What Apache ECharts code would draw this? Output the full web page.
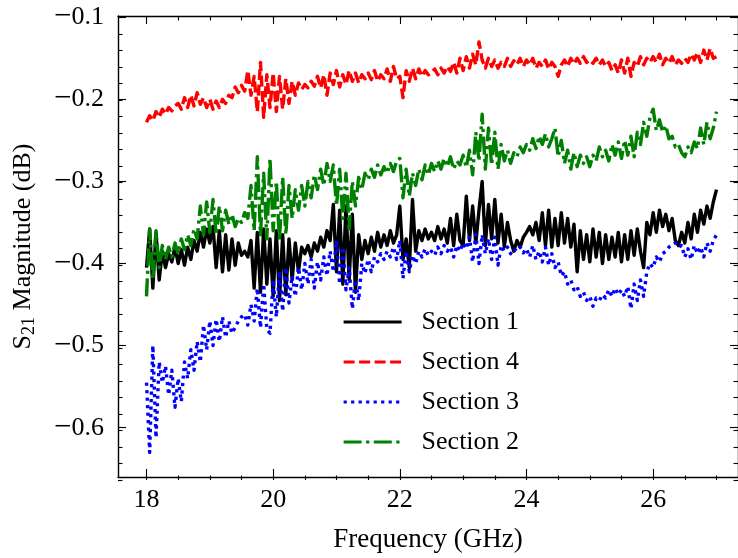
<!DOCTYPE html>
<html>
<head>
<meta charset="utf-8">
<script src="https://cdn.jsdelivr.net/npm/echarts@6/dist/echarts.min.js"></script>
<style>
html,body{margin:0;padding:0;background:#fff;}
#chart{width:738px;height:558px;}
</style>
</head>
<body>
<div id="chart"></div>
<script>
// Frequency sweep: 18.00 ... 27.00 GHz, 0.05 GHz step (181 points)
const freqStart = 18.0;
const freqStep = 0.05;
const freqCount = 181;
const freqGHz = [];
for (let i = 0; i < freqCount; i++) freqGHz.push(+(freqStart + i * freqStep).toFixed(2));

// Section 1 (black, solid)
const section1 = [
-0.405,-0.358,-0.430,-0.362,-0.420,-0.385,-0.405,-0.388,-0.398,-0.380,
-0.400,-0.383,-0.402,-0.380,-0.395,-0.372,-0.385,-0.362,-0.380,-0.358,
-0.375,-0.355,-0.405,-0.360,-0.410,-0.365,-0.408,-0.370,-0.402,-0.375,
-0.390,-0.385,-0.392,-0.372,-0.430,-0.362,-0.435,-0.358,-0.425,-0.370,
-0.440,-0.360,-0.445,-0.365,-0.438,-0.370,-0.420,-0.375,-0.410,-0.380,
-0.388,-0.378,-0.392,-0.375,-0.385,-0.368,-0.380,-0.360,-0.372,-0.328,
-0.410,-0.335,-0.425,-0.330,-0.420,-0.340,-0.435,-0.365,-0.395,-0.372,
-0.388,-0.368,-0.385,-0.362,-0.380,-0.365,-0.378,-0.360,-0.375,-0.365,
-0.330,-0.395,-0.370,-0.405,-0.322,-0.385,-0.360,-0.372,-0.358,-0.370,
-0.362,-0.372,-0.355,-0.370,-0.358,-0.375,-0.345,-0.378,-0.340,-0.372,
-0.378,-0.318,-0.372,-0.330,-0.375,-0.335,-0.300,-0.378,-0.328,-0.370,
-0.322,-0.375,-0.340,-0.380,-0.350,-0.372,-0.385,-0.372,-0.380,-0.368,
-0.362,-0.355,-0.365,-0.350,-0.372,-0.338,-0.378,-0.335,-0.380,-0.345,
-0.378,-0.338,-0.375,-0.345,-0.380,-0.352,-0.410,-0.360,-0.395,-0.365,
-0.398,-0.358,-0.392,-0.362,-0.400,-0.365,-0.395,-0.368,-0.392,-0.362,
-0.398,-0.365,-0.395,-0.360,-0.390,-0.358,-0.385,-0.405,-0.350,-0.365,
-0.338,-0.362,-0.335,-0.355,-0.340,-0.360,-0.345,-0.372,-0.378,-0.362,
-0.375,-0.350,-0.370,-0.340,-0.362,-0.335,-0.352,-0.330,-0.345,-0.325,
-0.310
];

// Section 4 (red, dashed)
const section4 = [
-0.228,-0.220,-0.226,-0.215,-0.222,-0.212,-0.218,-0.210,-0.214,-0.208,
-0.205,-0.212,-0.198,-0.210,-0.195,-0.208,-0.192,-0.206,-0.198,-0.210,
-0.200,-0.212,-0.202,-0.210,-0.200,-0.205,-0.195,-0.198,-0.185,-0.192,
-0.183,-0.190,-0.165,-0.195,-0.172,-0.215,-0.155,-0.222,-0.170,-0.210,
-0.168,-0.215,-0.172,-0.212,-0.175,-0.205,-0.178,-0.195,-0.180,-0.188,
-0.182,-0.186,-0.178,-0.184,-0.172,-0.186,-0.170,-0.195,-0.168,-0.182,
-0.165,-0.185,-0.170,-0.182,-0.165,-0.178,-0.168,-0.180,-0.170,-0.175,
-0.168,-0.176,-0.165,-0.178,-0.170,-0.175,-0.163,-0.178,-0.160,-0.175,
-0.172,-0.198,-0.165,-0.178,-0.162,-0.175,-0.163,-0.172,-0.165,-0.170,
-0.168,-0.163,-0.170,-0.162,-0.168,-0.160,-0.166,-0.155,-0.168,-0.150,
-0.165,-0.148,-0.162,-0.145,-0.158,-0.130,-0.152,-0.162,-0.150,-0.160,
-0.152,-0.162,-0.155,-0.160,-0.150,-0.160,-0.153,-0.158,-0.150,-0.160,
-0.152,-0.158,-0.150,-0.162,-0.155,-0.160,-0.152,-0.163,-0.155,-0.160,
-0.172,-0.158,-0.152,-0.160,-0.150,-0.157,-0.150,-0.156,-0.148,-0.155,
-0.152,-0.156,-0.150,-0.158,-0.152,-0.160,-0.155,-0.165,-0.158,-0.168,
-0.152,-0.168,-0.150,-0.172,-0.155,-0.160,-0.148,-0.158,-0.150,-0.155,
-0.148,-0.155,-0.145,-0.158,-0.150,-0.156,-0.148,-0.158,-0.152,-0.156,
-0.150,-0.155,-0.145,-0.152,-0.143,-0.155,-0.140,-0.152,-0.138,-0.150,
-0.148
];

// Section 3 (blue, dotted)
const section3 = [
-0.545,-0.630,-0.500,-0.612,-0.520,-0.545,-0.525,-0.560,-0.530,-0.575,
-0.540,-0.568,-0.520,-0.540,-0.505,-0.530,-0.495,-0.520,-0.475,-0.505,
-0.470,-0.500,-0.468,-0.495,-0.465,-0.490,-0.470,-0.485,-0.478,-0.470,
-0.465,-0.462,-0.475,-0.450,-0.470,-0.430,-0.478,-0.425,-0.480,-0.485,
-0.420,-0.465,-0.410,-0.458,-0.405,-0.448,-0.415,-0.440,-0.405,-0.432,
-0.400,-0.425,-0.395,-0.430,-0.398,-0.420,-0.392,-0.415,-0.385,-0.410,
-0.372,-0.425,-0.380,-0.432,-0.405,-0.455,-0.420,-0.445,-0.400,-0.412,
-0.395,-0.410,-0.392,-0.398,-0.388,-0.395,-0.385,-0.392,-0.380,-0.395,
-0.372,-0.418,-0.385,-0.410,-0.390,-0.400,-0.385,-0.392,-0.382,-0.390,
-0.385,-0.390,-0.380,-0.388,-0.378,-0.385,-0.380,-0.392,-0.378,-0.385,
-0.375,-0.382,-0.368,-0.398,-0.365,-0.400,-0.365,-0.388,-0.370,-0.395,
-0.368,-0.402,-0.378,-0.385,-0.380,-0.388,-0.382,-0.385,-0.380,-0.387,
-0.382,-0.392,-0.378,-0.395,-0.385,-0.398,-0.380,-0.402,-0.388,-0.405,
-0.398,-0.415,-0.410,-0.425,-0.420,-0.432,-0.428,-0.440,-0.435,-0.445,
-0.440,-0.452,-0.442,-0.445,-0.438,-0.442,-0.432,-0.440,-0.430,-0.438,
-0.432,-0.440,-0.428,-0.455,-0.425,-0.445,-0.420,-0.440,-0.410,-0.400,
-0.405,-0.392,-0.398,-0.388,-0.385,-0.380,-0.378,-0.375,-0.380,-0.378,
-0.392,-0.382,-0.395,-0.378,-0.388,-0.380,-0.392,-0.375,-0.385,-0.372,
-0.365
];

// Section 2 (green, dash-dot)
const section2 = [
-0.440,-0.358,-0.420,-0.360,-0.405,-0.378,-0.395,-0.380,-0.392,-0.375,
-0.388,-0.370,-0.383,-0.365,-0.378,-0.358,-0.370,-0.330,-0.365,-0.325,
-0.362,-0.322,-0.365,-0.330,-0.360,-0.335,-0.352,-0.340,-0.355,-0.345,
-0.350,-0.338,-0.345,-0.305,-0.360,-0.270,-0.365,-0.290,-0.370,-0.272,
-0.360,-0.300,-0.372,-0.295,-0.365,-0.305,-0.345,-0.310,-0.335,-0.305,
-0.330,-0.300,-0.320,-0.292,-0.310,-0.285,-0.305,-0.278,-0.300,-0.280,
-0.330,-0.285,-0.345,-0.290,-0.358,-0.300,-0.330,-0.295,-0.310,-0.290,
-0.298,-0.285,-0.295,-0.280,-0.292,-0.282,-0.290,-0.278,-0.288,-0.275,
-0.272,-0.320,-0.285,-0.318,-0.290,-0.305,-0.285,-0.298,-0.280,-0.292,
-0.278,-0.288,-0.275,-0.285,-0.272,-0.282,-0.270,-0.285,-0.275,-0.280,
-0.268,-0.283,-0.262,-0.292,-0.240,-0.275,-0.218,-0.285,-0.235,-0.280,
-0.240,-0.285,-0.255,-0.275,-0.262,-0.278,-0.265,-0.270,-0.258,-0.265,
-0.255,-0.262,-0.248,-0.260,-0.245,-0.255,-0.242,-0.258,-0.248,-0.235,
-0.270,-0.250,-0.278,-0.262,-0.285,-0.265,-0.282,-0.268,-0.278,-0.270,
-0.282,-0.268,-0.275,-0.258,-0.270,-0.262,-0.275,-0.255,-0.268,-0.252,
-0.272,-0.250,-0.268,-0.245,-0.270,-0.240,-0.255,-0.228,-0.245,-0.222,
-0.212,-0.238,-0.225,-0.240,-0.232,-0.248,-0.245,-0.258,-0.255,-0.265,
-0.270,-0.258,-0.265,-0.252,-0.260,-0.235,-0.255,-0.228,-0.248,-0.235,
-0.215
];

// Axis ticks
const xMajorTicks = [18, 20, 22, 24, 26];
const yMajorTicks = [-0.6, -0.5, -0.4, -0.3, -0.2, -0.1];
const xMin = 17.55, xMax = 27.34;
const yMin = -0.66, yMax = -0.0985;

const xMinorTicks = [];
for (let v = 18; v <= 27.01; v += 0.5) xMinorTicks.push(+v.toFixed(2));
const yMinorTicks = [];
for (let k = -33; k <= -5; k++) yMinorTicks.push(+(k * 0.02).toFixed(2));

const FONT = '"Liberation Serif", "DejaVu Serif", serif';
const FS = 26;

const pair = (ys) => freqGHz.map((f, i) => [f, ys[i]]);
const fmtY = (v) => (v < 0 ? '{m|\u2212}' : '') + '{n|' + Math.abs(v).toFixed(1) + '}';

const gridRect = { left: 118, right: -1, top: 16, bottom: 78 };

function xAx(gridIndex, position, ticks, len, withLabel, withLine) {
  return {
    type: 'value', gridIndex, position, min: xMin, max: xMax,
    splitLine: { show: false },
    axisLine: { show: withLine, onZero: false, lineStyle: { color: '#000', width: 1.4 } },
    axisTick: { show: true, inside: true, length: len, customValues: ticks, lineStyle: { color: '#000', width: 1.1 } },
    axisLabel: withLabel ? { show: true, customValues: ticks, margin: 10, color: '#000', fontFamily: FONT, fontSize: FS } : { show: false }
  };
}
function yAx(gridIndex, position, ticks, len, withLabel, withLine) {
  return {
    type: 'value', gridIndex, position, min: yMin, max: yMax,
    splitLine: { show: false },
    axisLine: { show: withLine, onZero: false, lineStyle: { color: '#000', width: 1.4 } },
    axisTick: { show: true, inside: true, length: len, customValues: ticks, lineStyle: { color: '#000', width: 1.1 } },
    axisLabel: withLabel ? {
      show: true, customValues: ticks, margin: 14, color: '#000', fontFamily: FONT, fontSize: FS, formatter: fmtY,
      rich: {
        m: { color: '#000', fontFamily: FONT, fontSize: 31 },
        n: { color: '#000', fontFamily: FONT, fontSize: FS }
      }
    } : { show: false }
  };
}

const xAxes = [
  xAx(0, 'bottom', xMajorTicks, 8, true, true),
  xAx(0, 'top', xMajorTicks, 8, false, true),
  xAx(1, 'bottom', xMinorTicks, 4.5, false, false),
  xAx(1, 'top', xMinorTicks, 4.5, false, false)
];
Object.assign(xAxes[0], {
  name: 'Frequency (GHz)', nameLocation: 'middle', nameGap: 49,
  nameTextStyle: { color: '#000', fontFamily: FONT, fontSize: 27 }
});
const yAxes = [
  yAx(0, 'left', yMajorTicks, 8, true, true),
  yAx(0, 'right', yMajorTicks, 8, false, true),
  yAx(1, 'left', yMinorTicks, 4.5, false, false),
  yAx(1, 'right', yMinorTicks, 4.5, false, false)
];
Object.assign(yAxes[0], {
  name: '{a|S}{b|21}{a| Magnitude (dB)}', nameLocation: 'middle', nameGap: 80,
  nameTextStyle: {
    color: '#000', fontFamily: FONT, fontSize: FS,
    rich: {
      a: { color: '#000', fontFamily: FONT, fontSize: FS, lineHeight: 30 },
      b: { color: '#000', fontFamily: FONT, fontSize: 18, lineHeight: 30, verticalAlign: 'bottom', padding: [10, 0, 0, 0] }
    }
  }
});

const LW = 3.4;
function lineSeries(name, ys, color, type) {
  return {
    name, type: 'line', xAxisIndex: 0, yAxisIndex: 0,
    data: pair(ys), showSymbol: false, symbol: 'none',
    lineStyle: { color, width: LW, type, cap: 'butt', join: 'round' },
    itemStyle: { color },
    emphasis: { disabled: true }
  };
}

const chart = echarts.init(document.getElementById('chart'), null, { renderer: 'canvas' });
chart.setOption({
  animation: false,
  backgroundColor: '#fff',
  grid: [Object.assign({}, gridRect), Object.assign({}, gridRect)],
  xAxis: xAxes,
  yAxis: yAxes,
  legend: {
    orient: 'vertical', left: 337, top: 302,
    itemWidth: 58, itemHeight: 14, itemGap: 10,
    itemStyle: { opacity: 0 },
    lineStyle: { width: 3.2 },
    textStyle: { color: '#000', fontFamily: FONT, fontSize: FS, lineHeight: 30, padding: [0, 0, 0, 15] },
    data: ['Section 1', 'Section 4', 'Section 3', 'Section 2']
  },
  series: [
    lineSeries('Section 1', section1, '#000000', 'solid'),
    lineSeries('Section 4', section4, '#ff0000', [11, 4.5]),
    lineSeries('Section 3', section3, '#0000ff', [3.2, 4.3]),
    lineSeries('Section 2', section2, '#008000', [18, 4.5, 3.2, 4.5])
  ]
});
</script>
</body>
</html>
